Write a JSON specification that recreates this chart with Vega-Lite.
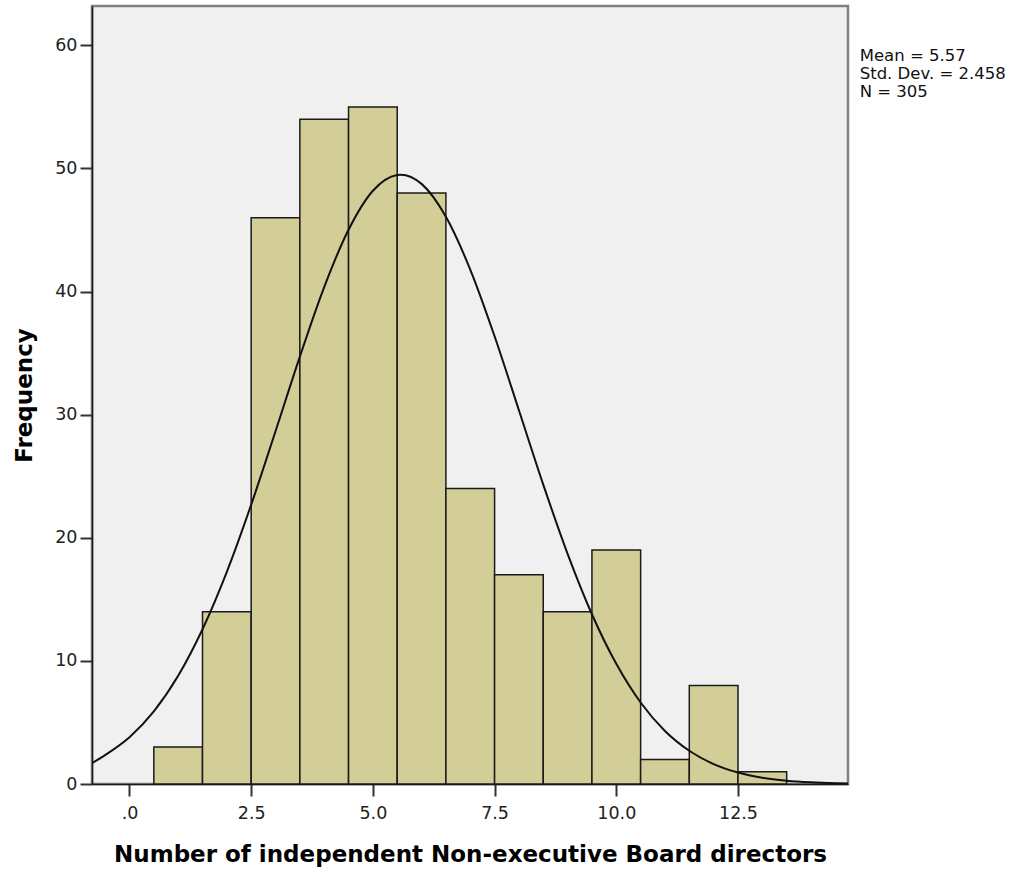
{
  "$schema": "https://vega.github.io/schema/vega-lite/v6.json",
  "autosize": "none",
  "width": 756,
  "height": 778,
  "padding": {"left": 92, "top": 6, "right": 172, "bottom": 85},
  "background": "white",
  "config": {
    "view": {"fill": "#f0f0f0", "stroke": "#808080", "strokeWidth": 2.5},
    "axis": {
      "grid": false,
      "domainColor": "#1a1a1a",
      "domainWidth": 1.5,
      "tickColor": "#333333",
      "tickWidth": 2,
      "tickSize": 12,
      "labelFont": "DejaVu Sans",
      "labelFontSize": 17.5,
      "labelColor": "#222222",
      "titleFont": "DejaVu Sans",
      "titleFontSize": 23,
      "titleFontWeight": "bold",
      "titleColor": "#000000"
    }
  },
  "datasets": {
    "bins": [
      {"bin_start": 0.5, "bin_end": 1.5, "count": 3},
      {"bin_start": 1.5, "bin_end": 2.5, "count": 14},
      {"bin_start": 2.5, "bin_end": 3.5, "count": 46},
      {"bin_start": 3.5, "bin_end": 4.5, "count": 54},
      {"bin_start": 4.5, "bin_end": 5.5, "count": 55},
      {"bin_start": 5.5, "bin_end": 6.5, "count": 48},
      {"bin_start": 6.5, "bin_end": 7.5, "count": 24},
      {"bin_start": 7.5, "bin_end": 8.5, "count": 17},
      {"bin_start": 8.5, "bin_end": 9.5, "count": 14},
      {"bin_start": 9.5, "bin_end": 10.5, "count": 19},
      {"bin_start": 10.5, "bin_end": 11.5, "count": 2},
      {"bin_start": 11.5, "bin_end": 12.5, "count": 8},
      {"bin_start": 12.5, "bin_end": 13.5, "count": 1}
    ],
    "normal": [
      {"x": -0.77, "y": 1.70},
      {"x": -0.5, "y": 2.35},
      {"x": 0.0, "y": 3.80},
      {"x": 0.5, "y": 5.90},
      {"x": 1.0, "y": 8.79},
      {"x": 1.5, "y": 12.57},
      {"x": 2.0, "y": 17.24},
      {"x": 2.5, "y": 22.69},
      {"x": 3.0, "y": 28.66},
      {"x": 3.5, "y": 34.72},
      {"x": 4.0, "y": 40.37},
      {"x": 4.5, "y": 45.02},
      {"x": 5.0, "y": 48.19},
      {"x": 5.5, "y": 49.48},
      {"x": 5.57, "y": 49.5},
      {"x": 6.0, "y": 48.75},
      {"x": 6.5, "y": 46.08},
      {"x": 7.0, "y": 41.79},
      {"x": 7.5, "y": 36.37},
      {"x": 8.0, "y": 30.36},
      {"x": 8.5, "y": 24.32},
      {"x": 9.0, "y": 18.70},
      {"x": 9.5, "y": 13.79},
      {"x": 10.0, "y": 9.76},
      {"x": 10.5, "y": 6.62},
      {"x": 11.0, "y": 4.31},
      {"x": 11.5, "y": 2.70},
      {"x": 12.0, "y": 1.62},
      {"x": 12.5, "y": 0.93},
      {"x": 13.0, "y": 0.51},
      {"x": 13.5, "y": 0.27},
      {"x": 14.0, "y": 0.14},
      {"x": 14.5, "y": 0.07},
      {"x": 14.76, "y": 0.05}
    ]
  },
  "layer": [
    {
      "data": {"name": "bins"},
      "mark": {"type": "rect", "fill": "#d3ce97", "stroke": "#1a1a1a", "strokeWidth": 1.5},
      "encoding": {
        "x": {
          "field": "bin_start",
          "type": "quantitative",
          "scale": {"domain": [-0.77, 14.76], "nice": false, "zero": false},
          "axis": {
            "values": [0, 2.5, 5, 7.5, 10, 12.5],
            "labelExpr": "datum.value == 0 ? '.0' : format(datum.value, '.1f')",
            "labelPadding": 8,
            "title": "Number of independent Non-executive Board directors",
            "titlePadding": 22
          }
        },
        "x2": {"field": "bin_end"},
        "y": {
          "field": "count",
          "type": "quantitative",
          "scale": {"domain": [0, 63.2], "nice": false},
          "axis": {
            "values": [0, 10, 20, 30, 40, 50, 60],
            "labelPadding": 3,
            "title": "Frequency",
            "titlePadding": 18
          }
        },
        "y2": {"datum": 0}
      }
    },
    {
      "data": {"name": "normal"},
      "mark": {"type": "line", "color": "#111111", "strokeWidth": 2, "interpolate": "monotone", "clip": true},
      "encoding": {
        "x": {"field": "x", "type": "quantitative"},
        "y": {"field": "y", "type": "quantitative"}
      }
    },
    {
      "data": {"values": [{}]},
      "mark": {
        "type": "text",
        "align": "left",
        "baseline": "alphabetic",
        "font": "DejaVu Sans",
        "fontSize": 16.5,
        "lineHeight": 18,
        "color": "#111111",
        "clip": false
      },
      "encoding": {
        "x": {"datum": 15.0, "type": "quantitative"},
        "y": {"datum": 58.7, "type": "quantitative"},
        "text": {"value": ["Mean = 5.57", "Std. Dev. = 2.458", "N = 305"]}
      }
    }
  ]
}
